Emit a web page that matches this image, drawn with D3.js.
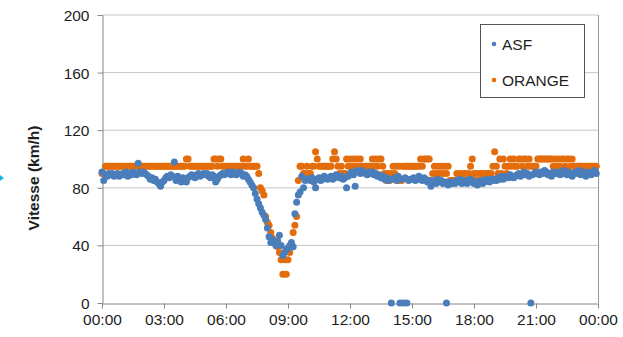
<!DOCTYPE html>
<html>
<head>
<meta charset="utf-8">
<script src="https://cdn.jsdelivr.net/npm/d3@7"></script>
<style>
  body { margin: 0; background: #fff; }
  svg { display: block; font-family: "Liberation Sans", Arial, sans-serif; }
</style>
</head>
<body>
<svg id="chart" width="623" height="337"></svg>
<script>
// one reading every 5 minutes, each line = one hour
const stepMinutes = 5;

const asf = [
  91,85,89,88,90,89,90,88,89,90,88,89,
  90,89,91,88,90,89,91,90,89,97,91,90,
  91,90,89,88,86,87,85,86,84,83,81,84,
  85,87,88,87,89,88,98,85,88,86,84,87,
  86,84,87,88,89,88,87,89,90,88,89,90,
  89,90,88,87,89,88,84,86,88,89,90,89,
  90,91,90,89,91,90,89,90,91,90,88,89,
  88,86,84,82,80,76,72,69,66,63,61,58,
  52,46,42,44,42,40,43,47,40,33,35,37,
  38,40,42,39,62,70,75,77,88,80,85,86,
  86,85,87,84,80,86,87,85,86,88,87,86,
  87,88,86,87,89,88,87,88,86,87,80,88,
  90,91,89,81,92,91,90,92,91,90,89,91,
  90,91,89,90,88,89,87,88,86,87,85,86,
  0,86,87,85,88,0,86,0,87,0,85,86,
  86,87,85,86,88,86,85,87,86,84,85,81,
  84,85,83,86,84,85,83,84,0,82,84,83,
  84,83,85,84,86,83,84,85,83,84,86,85,
  83,84,82,84,85,83,84,86,85,84,86,85,
  86,85,87,86,88,86,87,88,87,89,88,87,
  88,89,90,88,89,91,89,90,88,0,89,90,
  91,90,89,91,90,92,91,89,90,88,91,90,
  90,91,89,90,92,90,89,91,90,88,90,91,
  90,92,89,91,90,88,91,90,89,91,92,90
];

const orange = [
  90,90,95,95,95,95,95,95,95,95,95,95,
  95,95,95,95,95,95,95,95,95,95,95,95,
  95,95,95,95,95,95,95,95,95,95,95,95,
  95,95,95,95,95,95,95,95,95,95,95,95,
  95,100,100,95,95,95,95,95,95,95,95,95,
  95,95,95,95,95,100,100,95,100,100,95,95,
  95,95,95,95,95,95,95,95,95,95,100,95,
  95,100,95,95,95,95,95,90,80,78,75,60,
  56,54,49,45,42,40,39,35,30,20,30,20,
  30,35,40,49,54,60,85,95,95,90,90,95,
  90,90,95,95,105,100,95,95,95,95,95,95,
  95,95,100,105,100,95,90,95,90,90,100,95,
  100,95,100,95,100,95,100,95,95,95,95,95,
  95,100,95,100,95,100,100,95,90,85,90,85,
  90,95,90,95,85,95,85,95,95,95,95,95,
  95,95,95,95,95,100,95,100,100,100,100,85,
  90,95,90,95,90,95,90,95,90,95,85,85,
  85,85,90,85,90,85,90,90,85,90,95,100,
  90,85,90,85,90,90,85,90,90,90,90,95,
  105,95,90,100,90,100,95,90,95,100,95,100,
  95,95,100,100,95,100,100,95,100,95,95,95,
  95,100,100,100,100,100,100,100,100,100,95,100,
  95,100,95,100,100,95,100,100,95,100,95,95,
  95,95,95,95,95,95,95,95,95,95,95,95
];

const xTickMinutes = [0, 180, 360, 540, 720, 900, 1080, 1260, 1440];
const xTickLabels = ['00:00', '03:00', '06:00', '09:00', '12:00', '15:00', '18:00', '21:00', '00:00'];
const yTicks = [0, 40, 80, 120, 160, 200];
const seriesNames = ['ASF', 'ORANGE'];
const seriesColors = ['#4a7ebb', '#e46c0a'];

const svg = d3.select('#chart');
const plot = { left: 102, right: 598, top: 15, bottom: 303 };

const x = d3.scaleLinear().domain([0, 1440]).range([plot.left, plot.right]);
const y = d3.scaleLinear().domain([0, 200]).range([plot.bottom, plot.top]);

// gridlines
svg.append('g')
  .selectAll('line')
  .data(yTicks.filter(d => d > 0))
  .enter().append('line')
  .attr('x1', plot.left).attr('x2', plot.right)
  .attr('y1', d => y(d)).attr('y2', d => y(d))
  .attr('stroke', '#c6c6c6').attr('stroke-width', 1);

// right border of plot area
svg.append('line')
  .attr('x1', plot.right + 0.5).attr('x2', plot.right + 0.5)
  .attr('y1', plot.top).attr('y2', plot.bottom)
  .attr('stroke', '#9a9a9a');

// y axis
const yAxis = svg.append('g')
  .attr('transform', 'translate(' + (plot.left + 0.5) + ',0)')
  .call(d3.axisLeft(y).tickValues(yTicks).tickSize(5).tickPadding(8).tickSizeOuter(0));

// x axis
const xAxis = svg.append('g')
  .attr('transform', 'translate(0,' + (plot.bottom + 0.5) + ')')
  .call(d3.axisBottom(x).tickValues(xTickMinutes).tickSize(5).tickPadding(5).tickSizeOuter(0)
    .tickFormat((d, i) => xTickLabels[i]));

[yAxis, xAxis].forEach(a => {
  a.select('.domain').attr('stroke', '#868686');
  a.selectAll('.tick line').attr('stroke', '#868686');
  a.selectAll('.tick text')
    .attr('fill', '#1e1e1e')
    .style('font-size', '15.5px')
    .style('font-family', '"Liberation Sans", Arial, sans-serif');
});
yAxis.selectAll('.tick text').attr('dy', '0.36em');

// y axis title
svg.append('text')
  .attr('transform', 'translate(39,178) rotate(-90)')
  .attr('text-anchor', 'middle')
  .style('font-size', '15.5px')
  .style('font-weight', 'bold')
  .attr('fill', '#1e1e1e')
  .text('Vitesse (km/h)');

// points
const seriesData = [asf, orange];
[1, 0].forEach(s => {
  svg.append('g')
    .selectAll('circle')
    .data(seriesData[s])
    .enter().append('circle')
    .attr('cx', (d, i) => x(i * stepMinutes))
    .attr('cy', d => y(d))
    .attr('r', 3.5)
    .attr('fill', seriesColors[s]);
});

// legend
const legend = svg.append('g');
legend.append('rect')
  .attr('x', 480.5).attr('y', 24.5).attr('width', 104).attr('height', 73)
  .attr('fill', '#fff').attr('stroke', '#555').attr('stroke-width', 1);
seriesNames.forEach((name, i) => {
  const ly = 44 + i * 36;
  legend.append('circle')
    .attr('cx', 494).attr('cy', ly).attr('r', 2.3)
    .attr('fill', seriesColors[i]);
  legend.append('text')
    .attr('x', 502).attr('y', ly).attr('dy', '0.36em')
    .style('font-size', '15.5px')
    .attr('fill', '#1e1e1e')
    .text(name);
});

// small cyan mark at the left edge of the original picture
svg.append('path')
  .attr('d', 'M0,175 L4,178 L0,181 Z')
  .attr('fill', '#19b4ee');
</script>
</body>
</html>
